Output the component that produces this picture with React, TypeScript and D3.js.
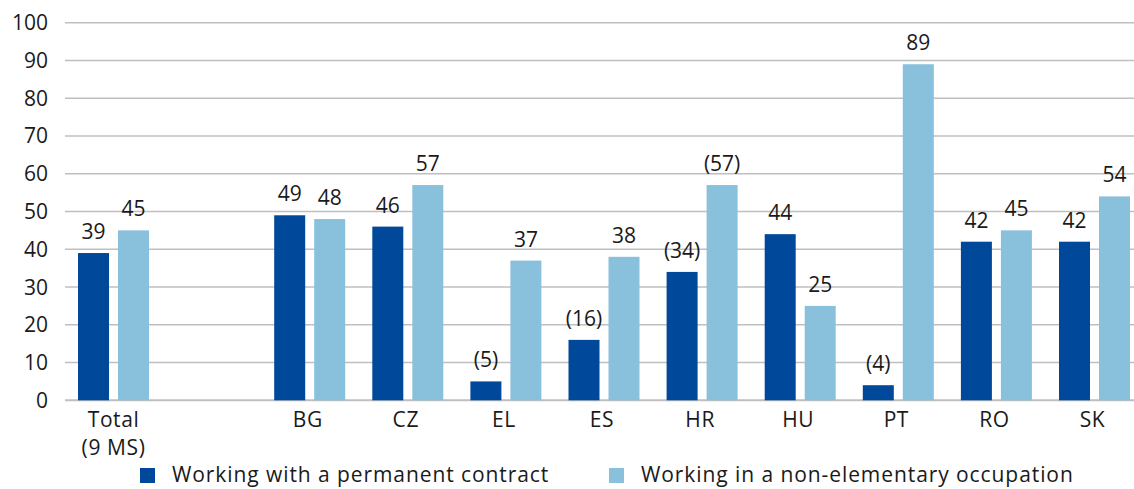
import React from "react";
import * as d3 from "d3";

const categories = ["Total\n(9 MS)", "", "BG", "CZ", "EL", "ES", "HR", "HU", "PT", "RO", "SK"];
const permanentValues: (number | null)[] = [39, null, 49, 46, 5, 16, 34, 44, 4, 42, 42];
const permanentLabels: string[] = ["39", "", "49", "46", "(5)", "(16)", "(34)", "44", "(4)", "42", "42"];
const nonElemValues: (number | null)[] = [45, null, 48, 57, 37, 38, 57, 25, 89, 45, 54];
const nonElemLabels: string[] = ["45", "", "48", "57", "37", "38", "(57)", "25", "89", "45", "54"];
const yTicks = [0, 10, 20, 30, 40, 50, 60, 70, 80, 90, 100];
const seriesNames = ["Working with a permanent contract", "Working in a non-elementary occupation"];

const W = 1134;
const H = 489;
const DARK = "#00499a";
const LIGHT = "#89c1dc";
const GRID = "#bfbfbf";
const TEXT = "#1a1a1a";
const FONT = "'Open Sans', sans-serif";
const FS = 21;

export default function App() {
  const x = d3.scaleBand<string>().domain(categories.map((c, i) => String(i))).range([64.5, 1143.6]).paddingInner(0).paddingOuter(0);
  const inner = d3.scaleBand<string>().domain(["p", "n"]).range([13.5, 84.5]).paddingInner(0.225).paddingOuter(0);
  const y = d3.scaleLinear().domain([0, 100]).range([400.3, 22.7]);
  const series = [
    { key: "p", values: permanentValues, labels: permanentLabels, color: DARK },
    { key: "n", values: nonElemValues, labels: nonElemLabels, color: LIGHT },
  ];
  return (
    <svg width={W} height={H} style={{ position: "absolute", left: 0, top: 0, display: "block", background: "#fff" }} fontFamily={FONT}>
      {yTicks.map((t) => (
        <g key={t}>
          <line x1={65} x2={W} y1={y(t)} y2={y(t)} stroke={GRID} strokeWidth={t === 0 ? 2 : 1.5} />
          <text x={48} y={y(t)} dy={7.5} textAnchor="end" fontSize={FS} fill={TEXT}>{t}</text>
        </g>
      ))}
      {categories.map((c, i) => {
        const x0 = x(String(i))!;
        return (
          <g key={i}>
            {series.map((s) => {
              const v = s.values[i];
              if (v == null) return null;
              const bx = x0 + inner(s.key)!;
              const bw = inner.bandwidth();
              return (
                <g key={s.key}>
                  <rect x={bx} y={y(v)} width={bw} height={y(0) - y(v)} fill={s.color} />
                  <text x={bx + bw / 2} y={y(v) - 14} textAnchor="middle" fontSize={FS} fill={TEXT}>{s.labels[i]}</text>
                </g>
              );
            })}
            {c.split("\n").map((line, j) => (
              <text key={j} x={x0 + x.bandwidth() / 2 - (i === 0 ? 0 : 2)} y={427 + j * 28} textAnchor="middle" fontSize={FS} fill={TEXT} letterSpacing={0.6}>{line}</text>
            ))}
          </g>
        );
      })}
      {seriesNames.map((name, i) => {
        const lx = i === 0 ? 140 : 609;
        return (
          <g key={name}>
            <rect x={lx} y={468} width={15} height={15} fill={i === 0 ? DARK : LIGHT} />
            <text x={lx + 32} y={482} fontSize={FS} fill={TEXT} letterSpacing={0.92}>{name}</text>
          </g>
        );
      })}
    </svg>
  );
}
